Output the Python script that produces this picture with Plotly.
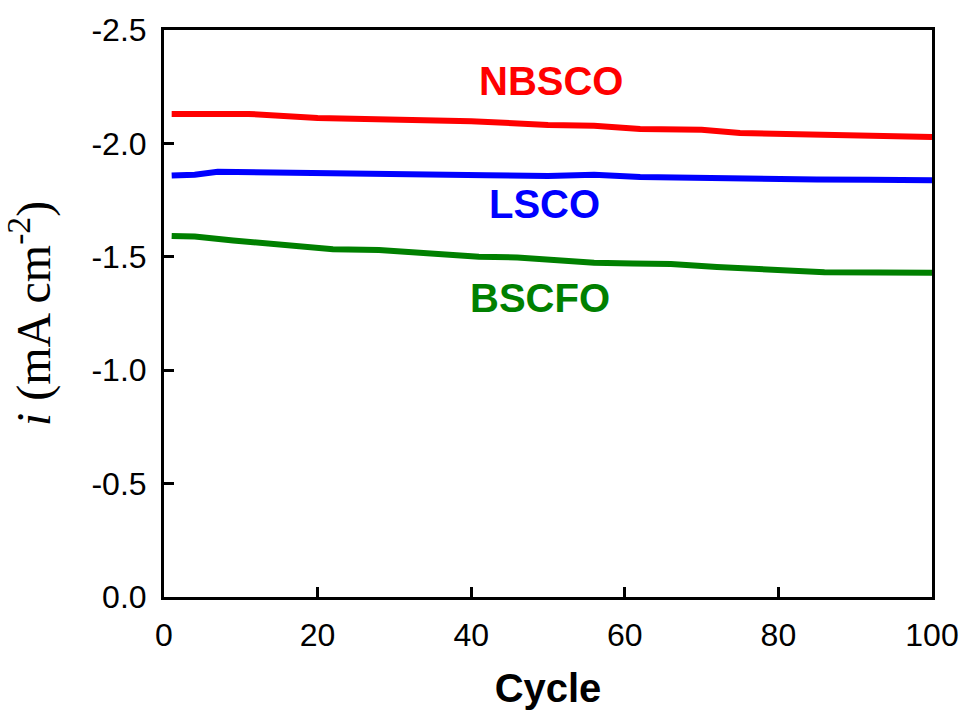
import plotly.graph_objects as go

# Current density vs. cycle number for three cathode materials
cycle_nbsco = [1, 5, 11, 20, 30, 40, 50, 56, 62, 70, 75, 80, 86, 93, 100]
i_nbsco = [-2.130, -2.131, -2.130, -2.112, -2.105, -2.098, -2.081, -2.078, -2.064, -2.060, -2.046, -2.042, -2.033, -2.030, -2.028]

cycle_lsco = [1, 4, 7, 12, 18, 23, 30, 35, 42, 50, 56, 62, 70, 76, 85, 92, 100]
i_lsco = [-1.858, -1.862, -1.875, -1.872, -1.874, -1.871, -1.866, -1.861, -1.860, -1.856, -1.862, -1.852, -1.846, -1.842, -1.841, -1.840, -1.837]

cycle_bscfo = [1, 4, 9, 13, 18, 22, 28, 34, 41, 46, 50, 56, 61, 66, 72, 79, 86, 93, 100]
i_bscfo = [-1.592, -1.589, -1.572, -1.560, -1.548, -1.533, -1.530, -1.515, -1.500, -1.497, -1.486, -1.474, -1.471, -1.468, -1.455, -1.442, -1.432, -1.431, -1.430]

x_ticks = [0, 20, 40, 60, 80, 100]
y_ticks = [0.0, -0.5, -1.0, -1.5, -2.0, -2.5]
y_ticktext = ["0.0", "-0.5", "-1.0", "-1.5", "-2.0", "-2.5"]

series = [
    ("NBSCO", cycle_nbsco, i_nbsco, "#ff0000"),
    ("LSCO", cycle_lsco, i_lsco, "#0000ff"),
    ("BSCFO", cycle_bscfo, i_bscfo, "#008000"),
]

# Label anchor positions in data coordinates
label_x = [50.4, 49.6, 48.9]
label_y = [-2.275, -1.735, -1.32]

SANS = "Liberation Sans, Arial"

fig = go.Figure()
for name, xs, ys, color in series:
    fig.add_trace(go.Scatter(
        x=xs, y=ys, mode="lines", name=name,
        line=dict(color=color, width=6, shape="linear"),
        showlegend=False,
    ))

for (name, _, _, color), lx, ly in zip(series, label_x, label_y):
    fig.add_annotation(
        x=lx, y=ly, text=f"<b>{name}</b>", showarrow=False,
        font=dict(family=SANS, size=40, color=color),
    )

axis_common = dict(
    showline=True, linecolor="black", linewidth=3, mirror=True,
    ticks="inside", ticklen=10, tickwidth=2.5, tickcolor="black",
    showgrid=False, zeroline=False, ticklabelstandoff=8, automargin=False,
    tickfont=dict(family=SANS, size=32, color="black"),
)

fig.update_xaxes(
    range=[0, 100], tickvals=x_ticks,
    title=dict(text="<b>Cycle</b>", standoff=22,
               font=dict(family=SANS, size=40, color="black")),
    **axis_common,
)
fig.update_yaxes(
    range=[0, -2.5], tickvals=y_ticks, ticktext=y_ticktext,
    title=dict(text="<i>i</i> (mA cm<sup>-2</sup>)", standoff=26,
               font=dict(family="Liberation Serif, Times New Roman", size=48, color="black")),
    **axis_common,
)

fig.update_layout(
    width=963, height=710,
    margin=dict(l=164, r=31, t=30, b=113),
    plot_bgcolor="white", paper_bgcolor="white",
)

fig.write_html("out.html")
